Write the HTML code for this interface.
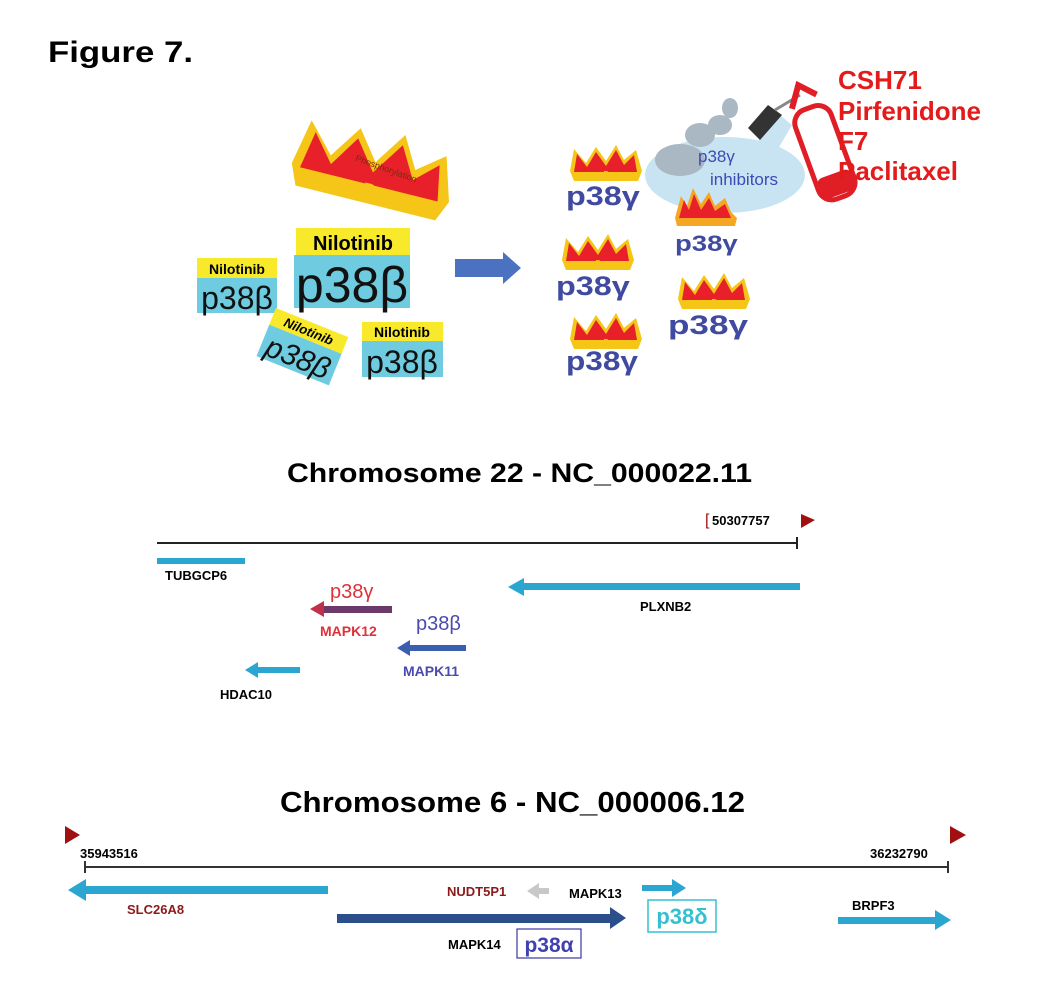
<!DOCTYPE html>
<html><head><meta charset="utf-8"><style>
html,body{margin:0;padding:0;background:#fff;}
svg{display:block;font-family:"Liberation Sans",Arial,sans-serif;}
</style></head><body>
<svg width="1056" height="995" viewBox="0 0 1056 995" xmlns="http://www.w3.org/2000/svg">
<defs>
<g id="crown">
<path d="M0,26 L4,4 L16,18 L26,2 L36,16 L46,0 L54,15 L66,5 L72,26 L68,36 L4,36 Z" fill="#f5c518"/>
<path d="M4,27 L7,9 L17,22 L26,7 L36,21 L46,5 L54,20 L64,10 L67,27 Z" fill="#e8202a"/>
<text x="36" y="32" font-size="8" font-weight="bold" fill="#f5c518" text-anchor="middle">P</text>
</g>
</defs>
<text x="48" y="62" font-size="30" font-weight="bold" fill="#000" textLength="145" lengthAdjust="spacingAndGlyphs">Figure 7.</text>

<!-- big crown -->
<g transform="translate(305,110) rotate(14) scale(2.25,2.1)"><use href="#crown"/></g>
<text x="350" y="172" font-size="9" fill="#7a2a10" transform="rotate(20 385 180)">Phosphorylation</text>

<!-- Nilotinib boxes -->
<rect x="296" y="228" width="114" height="27" fill="#f8ea2a"/>
<text x="353" y="250" font-size="20" font-weight="bold" text-anchor="middle">Nilotinib</text>
<rect x="294" y="255" width="116" height="53" fill="#6fcbe0"/>
<text x="352" y="302" font-size="50" text-anchor="middle" fill="#111">p38β</text>

<rect x="197" y="258" width="80" height="20" fill="#f8ea2a"/>
<text x="237" y="274" font-size="14" font-weight="bold" text-anchor="middle">Nilotinib</text>
<rect x="197" y="278" width="80" height="35" fill="#6fcbe0"/>
<text x="237" y="309" font-size="32" text-anchor="middle" fill="#111">p38β</text>

<rect x="362" y="322" width="81" height="19" fill="#f8ea2a"/>
<text x="402" y="337" font-size="14" font-weight="bold" text-anchor="middle">Nilotinib</text>
<rect x="362" y="341" width="81" height="36" fill="#6fcbe0"/>
<text x="402" y="373" font-size="32" text-anchor="middle" fill="#111">p38β</text>

<g transform="rotate(22 300 350)">
<rect x="262" y="320" width="78" height="18" fill="#f8ea2a"/>
<text x="301" y="334" font-size="13" font-weight="bold" font-style="italic" text-anchor="middle">Nilotinib</text>
<rect x="262" y="338" width="78" height="34" fill="#6fcbe0"/>
<text x="301" y="368" font-size="30" font-style="italic" text-anchor="middle" fill="#111">p38β</text>
</g>

<!-- arrow -->
<path d="M455,259 L503,259 L503,252 L521,268 L503,284 L503,277 L455,277 Z" fill="#4a72c0"/>

<!-- cloud -->
<ellipse cx="725" cy="175" rx="80" ry="38" fill="#c8e4f2"/>
<ellipse cx="680" cy="160" rx="25" ry="16" fill="#aab8c4"/>
<ellipse cx="700" cy="135" rx="15" ry="12" fill="#aab8c4"/>
<ellipse cx="720" cy="125" rx="12" ry="10" fill="#aab8c4"/>
<ellipse cx="730" cy="108" rx="8" ry="10" fill="#aab8c4"/>
<polygon points="735,168 780,115 792,125 760,180" fill="#c8e4f2"/>
<polygon points="748,128 768,105 782,115 760,140" fill="#333"/>
<line x1="775" y1="110" x2="800" y2="95" stroke="#888" stroke-width="3"/>
<!-- extinguisher -->
<g transform="rotate(-20 825 150)">
<rect x="805" y="105" width="38" height="95" rx="14" fill="#fff" stroke="#e01e25" stroke-width="5"/>
<rect x="805" y="175" width="38" height="22" rx="8" fill="#e01e25"/>
<path d="M808,100 L822,80 L836,95" stroke="#e01e25" stroke-width="6" fill="none"/>
</g>
<text x="698" y="162" font-size="17" fill="#3b4bb5">p38γ</text>
<text x="710" y="185" font-size="17" fill="#3b4bb5">inhibitors</text>

<g font-size="26" font-weight="bold" fill="#e31b1b">
<text x="838" y="89">CSH71</text>
<text x="838" y="120">Pirfenidone</text>
<text x="838" y="150">F7</text>
<text x="838" y="180">Paclitaxel</text>
</g>

<!-- p38gamma crowns -->
<use href="#crown" transform="translate(570,145)"/>
<use href="#crown" transform="translate(562,234)"/>
<use href="#crown" transform="translate(570,313)"/>
<use href="#crown" transform="translate(678,273)"/>
<g transform="translate(675,186)">
<path d="M0,32 L6,10 L12,20 L18,2 L26,18 L34,6 L40,20 L50,12 L56,26 L62,32 L60,40 L2,40 Z" fill="#f5a623"/>
<path d="M4,32 L9,14 L14,24 L19,8 L26,24 L34,12 L40,25 L50,18 L56,32 Z" fill="#e8202a"/>
</g>
<g font-size="27" font-weight="bold" fill="#3f4aa0">
<text transform="translate(566,205) scale(1.2,1)">p38γ</text>
<text transform="translate(556,295) scale(1.2,1)">p38γ</text>
<text transform="translate(566,370) scale(1.17,1)">p38γ</text>
<text transform="translate(668,334) scale(1.3,1)">p38γ</text>
</g>
<text transform="translate(675,251) scale(1.25,1)" font-size="22" font-weight="bold" fill="#3f4aa0">p38γ</text>

<!-- Chromosome 22 -->
<text x="287" y="482" font-size="27" font-weight="bold" textLength="465" lengthAdjust="spacingAndGlyphs">Chromosome 22 - NC_000022.11</text>
<line x1="157" y1="543" x2="797" y2="543" stroke="#222" stroke-width="2"/>
<line x1="797" y1="537" x2="797" y2="549" stroke="#222" stroke-width="2"/>
<text x="705" y="525" font-size="16" fill="#a01010">[</text>
<text x="712" y="525" font-size="13" font-weight="bold">50307757</text>
<polygon points="801,514 815,520 801,528" fill="#a01010"/>

<rect x="157" y="558" width="88" height="6" fill="#2aa6d0"/>
<text x="165" y="580" font-size="13" font-weight="bold">TUBGCP6</text>
<rect x="520" y="583" width="280" height="7" fill="#2aa6d0"/>
<polygon points="508,587 524,578 524,596" fill="#2aa6d0"/>
<text x="640" y="611" font-size="13" font-weight="bold">PLXNB2</text>

<text x="330" y="598" font-size="20" fill="#e0303a">p38γ</text>
<rect x="320" y="606" width="72" height="7" fill="#6b3a6b"/>
<polygon points="310,609 324,601 324,617" fill="#c0304a"/>
<text x="320" y="636" font-size="14" font-weight="bold" fill="#e0303a">MAPK12</text>

<text x="416" y="630" font-size="20" fill="#4a4ab0">p38β</text>
<rect x="408" y="645" width="58" height="6" fill="#3a5fb0"/>
<polygon points="397,648 410,640 410,656" fill="#3a5fb0"/>
<text x="403" y="676" font-size="14" font-weight="bold" fill="#4a4ab0">MAPK11</text>

<rect x="256" y="667" width="44" height="6" fill="#2aa6d0"/>
<polygon points="245,670 258,662 258,678" fill="#2aa6d0"/>
<text x="220" y="699" font-size="13" font-weight="bold">HDAC10</text>

<!-- Chromosome 6 -->
<text x="280" y="812" font-size="29" font-weight="bold" textLength="465" lengthAdjust="spacingAndGlyphs">Chromosome 6 - NC_000006.12</text>
<polygon points="65,826 80,835 65,844" fill="#a01010"/>
<polygon points="950,826 966,835 950,844" fill="#a01010"/>
<text x="80" y="858" font-size="13" font-weight="bold">35943516</text>
<text x="870" y="858" font-size="13" font-weight="bold">36232790</text>
<line x1="85" y1="867" x2="948" y2="867" stroke="#333" stroke-width="2"/>
<line x1="85" y1="861" x2="85" y2="873" stroke="#333" stroke-width="2"/>
<line x1="948" y1="861" x2="948" y2="873" stroke="#333" stroke-width="2"/>

<rect x="82" y="886" width="246" height="8" fill="#2aa6d0"/>
<polygon points="68,890 86,879 86,901" fill="#2aa6d0"/>
<text x="127" y="914" font-size="13" font-weight="bold" fill="#8b1a1a">SLC26A8</text>

<text x="447" y="896" font-size="13" font-weight="bold" fill="#8b1a1a">NUDT5P1</text>
<rect x="537" y="888" width="12" height="6" fill="#c8c8c8"/>
<polygon points="527,891 539,883 539,899" fill="#c8c8c8"/>

<text x="569" y="898" font-size="13" font-weight="bold">MAPK13</text>
<rect x="642" y="885" width="32" height="6" fill="#2aa6d0"/>
<polygon points="686,888 672,879 672,897" fill="#2aa6d0"/>
<rect x="648" y="900" width="68" height="32" fill="#fff" stroke="#35c0d0" stroke-width="1.5"/>
<text x="682" y="924" font-size="22" font-weight="bold" fill="#35c0d0" text-anchor="middle">p38δ</text>

<rect x="337" y="914" width="275" height="9" fill="#2a4f8a"/>
<polygon points="626,918 610,907 610,929" fill="#2a4f8a"/>
<text x="448" y="949" font-size="13" font-weight="bold">MAPK14</text>
<rect x="517" y="929" width="64" height="29" fill="#fff" stroke="#3a3aa0" stroke-width="1.2"/>
<text x="549" y="952" font-size="21" font-weight="bold" fill="#4040b0" text-anchor="middle">p38α</text>

<text x="852" y="910" font-size="13" font-weight="bold">BRPF3</text>
<rect x="838" y="917" width="100" height="7" fill="#2aa6d0"/>
<polygon points="951,920 935,910 935,930" fill="#2aa6d0"/>
</svg>
</body></html>
